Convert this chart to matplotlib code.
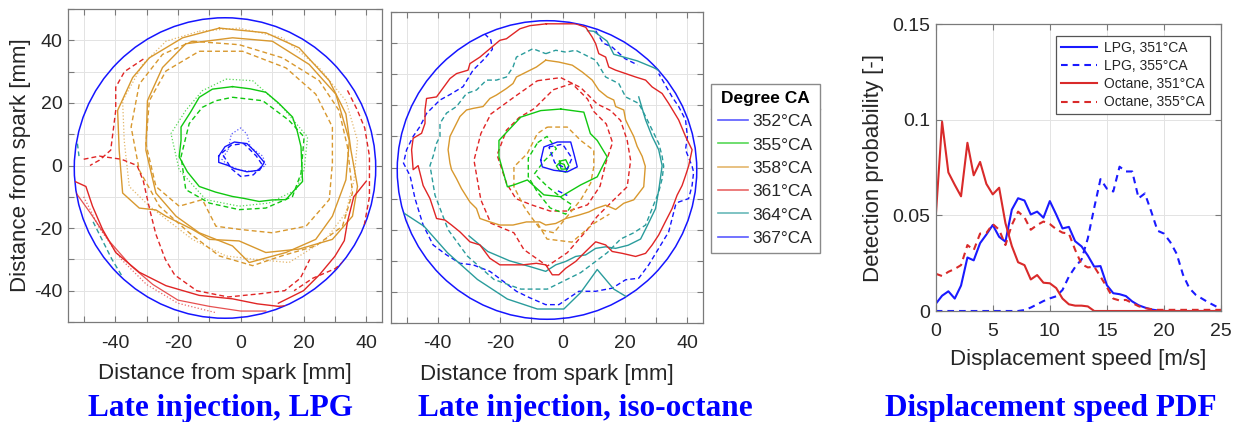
import numpy as np
import matplotlib
matplotlib.use('Agg')
import matplotlib.pyplot as plt
from matplotlib.lines import Line2D
from matplotlib.patches import Circle
from matplotlib.ticker import MultipleLocator, FuncFormatter

# ---------------- data ----------------
wall_center = (-5.0, -0.8)
wall_radius = 48.0

ca_labels = ['352°CA', '355°CA', '358°CA', '361°CA', '364°CA', '367°CA']
ca_colors = ['#1515ff', '#10c810', '#d8982e', '#e02525', '#2a9c9c', '#1515ff']

# Panel 1: late injection LPG (contour points in mm)
lpg_352_solid = [(-7, 3), (-5, 6), (-2, 7.5), (2, 7), (5, 4), (7.5, 1), (6, -1.5), (2, -2), (-2, -1), (-4, 0), (-7, 1)]
lpg_352_dashed = [(-6, 4), (-3, 6.5), (1, 7), (5, 3), (7, 0), (4, -3), (0, -3.5), (-3, -1)]
lpg_352_dotted = [(-4, 5), (-3, 10), (0, 12), (2, 10), (3, 6), (7, 3), (8, 0), (4, -2), (0, -1.5), (-4, 0), (-6, 2)]
lpg_355_solid = [(-2.6, 25.2), (3, 24.5), (8, 23.4), (12, 20), (16.5, 15.5), (18, 11), (19.2, 6), (19.7, -5.1), (17, -8),
                 (14.4, -10.9), (10, -11), (5.9, -11.5), (1, -10.5), (-2.6, -9.9), (-8, -8.5), (-13.2, -6.7), (-17, -2),
                 (-19.6, 2.8), (-19, 8), (-19, 12.3), (-16, 17), (-13.2, 21.8), (-9, 24.4)]
lpg_355_dashed = [(-2.6, 21.8), (7, 20.7), (15.4, 14.4), (20.2, 9.1), (19.2, -2.5), (16.5, -9.9), (8, -13.6), (-0.5, -14.1),
                  (-10, -12), (-17.5, -7.7), (-19, 2.8), (-16.4, 13.4), (-12.2, 18.6), (-7.9, 20.7)]
lpg_355_dotted = [(-4.7, 27.6), (3.8, 27.1), (13.3, 18.6), (21.3, 9.1), (20.2, -1.4), (17.6, -7.8), (9, -12), (-0.5, -13),
                  (-11.1, -10.9), (-19.6, -1.4), (-22.2, 10.2), (-17.5, 17.6), (-12.2, 23.9)]
lpg_358_solid_a = [(-6.8, 43.9), (8, 42.4), (18.6, 37.6), (28.2, 27.1), (33.5, 16.5), (35.1, 4.9), (37.2, -6.7), (35.6, -16.2),
                   (29.2, -23.6), (18.6, -26.7), (8, -27.8), (-0.5, -24.1), (-10, -23.6), (-15.4, -20.4), (-23.8, -16.2),
                   (-27, -14.2), (-32.3, -13.6), (-37.6, -8.8), (-38.7, 4.9), (-39.2, 17.6), (-34.4, 28.1), (-29.1, 34.4), (-18.5, 40.8)]
lpg_358_solid_b = [(-17.5, 38.9), (-2.6, 40.8), (10.1, 39.7), (21.8, 32.3), (30.3, 22.8), (34.6, 8), (33.5, -4.6), (29.2, -16.2),
                   (23.9, -23.6), (14.4, -27.8), (2.7, -31), (-2.6, -25.7), (-13.2, -21.5), (-20.6, -16.2), (-27, -8.8),
                   (-30.2, 4.9), (-29.7, 20.7), (-24.9, 31.3)]
lpg_358_dashed_a = [(-15.4, 39.7), (-0.5, 38.6), (13.3, 34.4), (25, 27.1), (31.3, 17.6), (34, 6), (35.6, -8.8), (32.4, -19.4),
                    (23.9, -25.7), (13.3, -28.8), (3.8, -32), (-6.8, -28.9), (-16.4, -21.5), (-25.9, -13), (-32.3, -1.5),
                    (-34.9, 12.3), (-32.3, 26), (-24.9, 35.5)]
lpg_358_dashed_b = [(-13.2, 36.5), (0.6, 36.5), (14.4, 31.2), (23.9, 22.8), (29.2, 12.3), (29.2, 0.7), (28.2, -10.9),
                    (20.8, -19.4), (10.1, -21.5), (-0.5, -20.4), (-7.9, -19.4), (-12.2, -10.9), (-19.6, -13), (-27, -6.7),
                    (-30.2, 7), (-29.1, 20.7), (-23.8, 30.2)]
lpg_358_dotted = [(-13.2, 42.9), (-0.5, 43.9), (13.3, 40.8), (25, 31.2), (33.5, 20.7), (37.2, 8), (36.1, -4.6), (33.5, -15.1),
                  (27.1, -23.6), (15.4, -31), (3.8, -29.9), (-4.7, -28.9), (-15.4, -23.6), (-29.1, -13), (-35.5, -6.7),
                  (-37.1, 8), (-37.6, 20.7), (-31.2, 32.3), (-23.8, 39.7)]
lpg_361_solid_a = [(-53, -5), (-49.3, -6.7), (-47.2, -13), (-44, -20.4), (-39.8, -27.8), (-32.3, -34.1), (-23.8, -38.4),
                   (-13.2, -41.5), (-2.6, -42.6), (5.3, -44.2), (12, -45), (18.6, -44.5), (25, -41)]
lpg_361_solid_b = [(-53, -8), (-48, -15), (-42, -24), (-35, -32), (-28, -38), (-20, -43), (-10, -45), (0, -46.5), (8, -46.5)]
lpg_361_solid_c = [(40, -5), (36, -10), (34, -18), (33, -24), (30, -29), (25, -35), (20, -40), (12, -44)]
lpg_361_dashed_a = [(-31, 34), (-37, 30), (-39.8, 25), (-39.8, 17.6), (-41.4, 4.9), (-45, 1.7), (-48, 0)]
lpg_361_dashed_b = [(-50, 2), (-45, 3), (-38, 2), (-33, 0), (-31, -5), (-29, -14), (-27, -22), (-24, -30), (-21, -35),
                    (-14, -40), (-4, -42), (6, -41), (14, -40), (19, -36), (22, -30)]
lpg_361_dashed_c = [(34, 24), (37, 18), (39.5, 12), (41, 3), (41, -10), (39, -21), (36, -28), (30, -33), (23, -36), (17, -40)]
lpg_361_dotted = [(-50, -10), (-45, -20), (-38, -30), (-30, -38), (-20, -44), (-8, -47)]
lpg_364_dashed_a = [(-52, 7), (-51.5, 3)]
lpg_364_dashed_b = [(-47, -18), (-44, -24), (-41, -30), (-38, -35)]

# Panel 2: late injection iso-octane
oct_352_solid = [(-7, 2.3), (-6, 6.6), (-1.7, 8.2), (2.6, 8.2), (3.6, 4.5), (4.7, 0.2), (1.5, -1.4), (-2.8, -0.9), (-6.5, 0.2)]
oct_352_dashed = [(-4.4, 6.6), (0, 7.5), (3, 3), (1.5, -0.5), (-2.5, 1.5), (-4.4, 6.6)]
oct_352_dotted = [(-1.5, -7.5), (0.5, -8.5), (1.5, -9)]
oct_355_solid = [(-0.6, 18.8), (6.8, 17.8), (8.9, 10.9), (11.1, 8.7), (14.3, 3.4), (11.1, -3), (5.8, -5.6), (-0.6, -9.4),
                 (-6, -8.8), (-11.3, -4), (-15.6, -5.6), (-17.7, -6.2), (-20.4, 3.4), (-20.4, 8.7), (-13.4, 16.2), (-7, 18.3)]
oct_355_dashed = [(-8, 8), (-5, 10), (-2, 6), (-6, 2), (-9, -2), (-5, -6), (0, -10), (3, -12), (1, -15), (-4, -13),
                  (-8, -8), (-11, -3), (-11, 3)]
oct_355_core = [(-1, 2), (1, 2.5), (2, 0.5), (1, -1.5), (-1, -1), (-2, 0.5), (-1, 1.5), (0.5, 1), (1, -0.5), (-0.5, -0.5)]
oct_358_solid = [(-5.4, 34.5), (-1.2, 33.9), (3.1, 32.9), (6.3, 30.7), (9.5, 28.1), (11.6, 24.9), (14.3, 22.7), (16.4, 21.7),
                 (17, 19.6), (19.6, 18.5), (20.2, 15.3), (21.2, 13.2), (22.8, 10), (23.9, 6.8), (25.5, 3.6), (26.5, 0.4),
                 (26, -6.2), (22.8, -10.4), (19.6, -11.5), (17, -13.5), (13.8, -12.1), (10.6, -13.2), (8.4, -14.3),
                 (5.2, -15.3), (1, -16.4), (-2.2, -18), (-5.4, -18.5), (-7.3, -17.5), (-11.6, -17.5), (-15.9, -18.5),
                 (-20.1, -18.5), (-23.3, -17.5), (-26.5, -16.4), (-27.6, -13.2), (-29.7, -11.1), (-32.4, -6.8),
                 (-34, -3.6), (-35.6, -0.7), (-36.1, 1.4), (-36.7, 5.7), (-36.1, 10), (-34.5, 13.2), (-32.9, 16.4),
                 (-30.8, 18.5), (-28.7, 19), (-25.5, 19.6), (-23.3, 22.2), (-21.2, 23.3), (-18, 25.4), (-15.9, 27),
                 (-14.8, 29.1), (-11.6, 30.7), (-8.4, 32.3)]
oct_358_dashed = [(-4.9, 13), (1.5, 13), (5.8, 8.7), (10, 5.5), (10, 0.2), (9, -5), (5.8, -10.4), (1.5, -15.7), (-2.8, -21),
                  (-7, -20), (-10.2, -15.7), (-12.4, -12.5), (-15.6, -6.2), (-15.6, 0.2), (-11.3, 4.5), (-8.1, 10.9)]
oct_358_dashed_b = [(-8, -18), (-5, -23), (3, -24), (10, -18), (15, -15)]
oct_361_solid = [(-5.2, 46.2), (-10.5, 45.6), (-13.7, 44.6), (-18, 41.4), (-20.1, 40.9), (-23.3, 38.2), (-26.5, 35.5),
                 (-29.7, 33.4), (-30.3, 31.3), (-34, 30.2), (-36.1, 28.6), (-38.8, 24.9), (-40.4, 22.7), (-43.6, 22.2),
                 (-44.1, 18.5), (-44.1, 14.2), (-45.2, 11), (-47.9, 9.4), (-48.4, 5.7), (-47.9, -0.7), (-46.3, 0.6),
                 (-44.7, -5.8), (-42.5, -10), (-40.4, -16.4), (-37.7, -16.9), (-35.6, -18.5), (-32.9, -20.7),
                 (-29.7, -23.9), (-26.5, -24.9), (-23.3, -29.2), (-20.1, -31.3), (-15.9, -31.3), (-12.7, -31.3),
                 (-8.4, -30.8), (-5.4, -31.3), (-3.3, -34.5), (-1.2, -34.5), (1, -32.4), (4.2, -30.2), (7.4, -27),
                 (10.6, -23.9), (13.8, -24.9), (15.9, -27), (19.1, -27.6), (23.4, -28.6), (26.6, -27.6), (28.7, -24.9),
                 (30.8, -21.7), (32.9, -17.5), (35.1, -13.2), (36.7, -8.9), (38.3, -5.8), (39.4, -2.6), (40.4, 0.5),
                 (41.5, 5.7), (39.4, 10), (37.2, 15.3), (34, 20.6), (31.9, 23.8), (28.7, 25.9), (26.6, 28.1), (23.4, 29.1),
                 (20.2, 30.2), (17, 31.3), (14.8, 32.3), (13.8, 35.5), (11.6, 36.6), (10.6, 39.8), (9.5, 41.9),
                 (7.4, 45.1), (4.2, 46.2), (0, 46.2)]
oct_361_dashed = [(-8.1, 27.9), (-0.6, 28.9), (5.8, 25.7), (11.1, 20.4), (15.4, 18.3), (18.6, 15.1), (20.7, 8.7), (21.8, 2.3),
                  (20.7, -6.2), (16.4, -10.4), (11.1, -15.7), (7.9, -20), (1.5, -27.4), (-4.9, -31.7), (-12.4, -26.4),
                  (-15.6, -21), (-23, -17.9), (-26.2, -10.4), (-28.4, 2.3), (-26.2, 10.9), (-23, 17.2), (-15.6, 22.6)]
oct_361_dashed_b = [(-3, 25), (3, 27), (8, 22), (10, 18), (14, 14), (16, 8), (14, 2), (12, -6), (8, -12), (2, -14),
                    (-4, -14), (-10, -12), (-15, -10), (-18, -5), (-21, 4), (-18, 12), (-14, 16), (-9, 19)]
oct_364_solid_a = [(-50.8, -14.7), (-44.4, -18.9), (-36.9, -27.4), (-27.3, -36), (-17.7, -42.3), (-8.1, -45.5), (0.4, -45.5),
                   (5.8, -40.2), (11.1, -32.8), (16.4, -39.1), (21.2, -42), (27, -40)]
oct_364_solid_b = [(8, 44), (10, 43.8), (14.3, 40.6), (16.4, 36.4), (23.9, 34.3), (29.2, 32.1), (33, 30)]
oct_364_solid_c = [(-30, -22), (-24, -27), (-17, -30), (-10, -32), (-5.4, -33.4), (-2.2, -31.3), (1, -30.2), (4.2, -28.6),
                   (7.4, -28.1), (10.6, -26), (13.8, -25.5), (17, -26), (21, -25), (25, -23), (27, -19), (29.8, -13.2),
                   (31, -6), (31.9, 0.6), (30.8, 5.7), (28.7, 10), (26.6, 15.3), (24.4, 22.7)]
oct_364_dashed = [(-5.4, 36.6), (-2.2, 37.7), (1, 37.1), (4.2, 37.7), (10.6, 34.5), (13.8, 29.1), (18, 27), (20.2, 22.7),
                  (24.4, 20.6), (26.6, 16.4), (28.7, 12.1), (30.8, 7.8), (31.9, 3.6), (32.4, 0.4), (31.9, -3.6),
                  (30.8, -7.9), (28.7, -13.2), (26.6, -18.5), (22.8, -21), (18.6, -23), (14.3, -27.4), (5.8, -33.8),
                  (-4.9, -39.1), (-13.4, -39.1), (-22, -36), (-30.5, -28.5), (-36.7, -20), (-40.9, -8.9), (-42.5, 0.6),
                  (-41.5, 3.6), (-40.4, 7.8), (-39.3, 10), (-39.3, 14.2), (-37.2, 17.5), (-34, 19.6), (-30.8, 23.8),
                  (-27.6, 24.9), (-24.4, 28.1), (-21.2, 28.1), (-18, 29.1), (-15.9, 32.3), (-14.8, 35.5), (-9.5, 38.2)]
oct_367_dashed_a = [(-25, 43), (-23, 41), (-22.5, 38), (-25, 35), (-28.7, 31.3), (-31.9, 26), (-36, 23.5), (-39.3, 21.7),
                    (-43.6, 17.4), (-45.7, 13.2), (-47.9, 10), (-50, 5.7), (-51, 1.4), (-48.9, -2.6), (-47.3, -10),
                    (-44.7, -18.5), (-41.5, -24.9), (-37.2, -28.1), (-32.9, -30.8), (-28.7, -31.3), (-23.3, -33.4),
                    (-19, -36.6), (-14.8, -39.8), (-10.5, -41.9), (-5.4, -44.1), (-1.2, -44.1), (5.2, -39.8), (10.6, -39.8),
                    (15.9, -38.8), (20.2, -36.1), (24.4, -35.6), (27.6, -31.3), (30.8, -26), (34, -20.7), (35.1, -16.4),
                    (36.2, -12.1), (37.2, -11.1), (40.4, -10), (41.5, -5.8), (42, -1.5), (41.5, 0.4), (39.4, 5.7),
                    (40, 10), (39.4, 15.3), (37.2, 19.6), (35.1, 22.7), (30.8, 30.2)]
oct_367_dashed_b = [(10.6, 44), (13, 40), (15.9, 38.7), (20, 35), (24, 33)]

# Panel 3: displacement speed PDF
speed_bins = [0.0, 0.56, 1.11, 1.67, 2.22, 2.78, 3.33, 3.89, 4.44, 5.0, 5.56, 6.11, 6.67, 7.22, 7.78, 8.33, 8.89, 9.44,
              10.0, 10.56, 11.11, 11.67, 12.22, 12.78, 13.33, 13.89, 14.44, 15.0, 15.56, 16.11, 16.67, 17.22, 17.78,
              18.33, 18.89, 19.44, 20.0, 20.56, 21.11, 21.67, 22.22, 22.78, 23.33, 23.89, 24.44, 25.0]
pdf_lpg_351 = [0.0037, 0.008, 0.0103, 0.0065, 0.0133, 0.028, 0.0265, 0.0355, 0.040, 0.045, 0.0388, 0.0363, 0.053, 0.059,
               0.0578, 0.0505, 0.052, 0.0488, 0.0575, 0.0505, 0.0432, 0.044, 0.0365, 0.0338, 0.029, 0.0232, 0.0235, 0.0135,
               0.0093, 0.0088, 0.0078, 0.005, 0.003, 0.0018, 0.0008, 0.0003, 0, 0, 0, 0, 0, 0, 0, 0, 0, 0]
pdf_lpg_355 = [0, 0, 0, 0, 0, 0, 0, 0, 0, 0, 0, 0, 0, 0, 0.0005, 0.0018, 0.0035, 0.0052, 0.0066, 0.0077, 0.011, 0.018,
               0.023, 0.027, 0.038, 0.054, 0.069, 0.064, 0.0625, 0.0755, 0.073, 0.073, 0.059, 0.0615, 0.052, 0.042, 0.0405,
               0.036, 0.030, 0.019, 0.012, 0.0085, 0.0065, 0.0045, 0.0028, 0.001]
pdf_oct_351 = [0.049, 0.099, 0.0725, 0.066, 0.060, 0.088, 0.071, 0.078, 0.0665, 0.061, 0.0645, 0.046, 0.034, 0.0255, 0.024,
               0.0165, 0.0188, 0.0148, 0.0145, 0.012, 0.0065, 0.0035, 0.0028, 0.0028, 0.0024, 0, 0, 0, 0, 0, 0, 0, 0, 0,
               0, 0, 0, 0, 0, 0, 0, 0, 0, 0, 0, 0]
pdf_oct_355 = [0.0195, 0.0183, 0.0205, 0.022, 0.024, 0.0345, 0.0318, 0.0405, 0.0408, 0.0455, 0.0425, 0.0345, 0.045, 0.052,
               0.049, 0.0425, 0.045, 0.0468, 0.0455, 0.0428, 0.041, 0.0405, 0.032, 0.0245, 0.0228, 0.0232, 0.018, 0.0125,
               0.0065, 0.0055, 0.0058, 0.0042, 0.0025, 0.0015, 0.001, 0.0006, 0.0006, 0.0006, 0.0006, 0.0006, 0.0006,
               0.0006, 0.0006, 0.0006, 0.0006, 0.0006]
pdf_labels = ['LPG, 351°CA', 'LPG, 355°CA', 'Octane, 351°CA', 'Octane, 355°CA']

# ---------------- style ----------------
plt.rcParams['font.family'] = ['Liberation Sans', 'DejaVu Sans']
TXT = '#262626'
SPINE = '#7a7a7a'
GRID = '#e3e3e3'

W, H = 1237, 422
fig = plt.figure(figsize=(W / 100, H / 100), dpi=100)


def style_axes(ax):
    for s in ax.spines.values():
        s.set_color(SPINE)
        s.set_linewidth(0.9)
    ax.tick_params(direction='in', top=True, right=True, color=SPINE, labelcolor=TXT,
                   labelsize=14, length=4, width=0.8)
    ax.grid(True, color=GRID, linewidth=0.7)
    ax.set_axisbelow(True)


def draw(ax, pts, color, ls='-', lw=0.9, alpha=1.0, closed=True, clip=None):
    arr = np.array(pts, dtype=float)
    if closed:
        arr = np.vstack([arr, arr[:1]])
    ln, = ax.plot(arr[:, 0], arr[:, 1], color=color, linestyle=ls, linewidth=lw, alpha=alpha,
                  solid_joinstyle='round')
    if ls == '--':
        ln.set_dashes((3.5, 2.2))
    if clip is not None:
        ln.set_clip_path(clip)
    return ln


def label_every_20(v, pos):
    iv = int(round(v))
    return str(iv) if iv % 20 == 0 else ''


def setup_flame_axes(rect, show_y):
    ax = fig.add_axes(rect)
    ax.set_xlim(-55, 45)
    ax.set_ylim(-50, 50)
    style_axes(ax)
    ax.xaxis.set_major_locator(MultipleLocator(10))
    ax.yaxis.set_major_locator(MultipleLocator(10))
    ax.xaxis.set_major_formatter(FuncFormatter(label_every_20))
    if show_y:
        ax.yaxis.set_major_formatter(FuncFormatter(label_every_20))
        ax.set_ylabel('Distance from spark [mm]', fontsize=16, color=TXT, labelpad=2)
    else:
        ax.yaxis.set_major_formatter(FuncFormatter(lambda v, p: ''))
    ax.tick_params(axis='x', pad=9)
    ax.tick_params(axis='y', pad=4)
    ax.set_xlabel('Distance from spark [mm]', fontsize=16, color=TXT, labelpad=8)
    clip = Circle(wall_center, wall_radius, transform=ax.transData, facecolor='none', edgecolor='none')
    ax.add_patch(clip)
    return ax, clip


c352, c355, c358, c361, c364, c367 = ca_colors

# ---- panel 1 ----
ax1, clip1 = setup_flame_axes([68 / W, 1 - 322 / H, 314 / W, 313 / H], True)
for pts, col, ls, lw, al, cl in [
    (lpg_358_dotted, c358, ':', 0.9, 0.7, True),
    (lpg_358_solid_a, c358, '-', 1.0, 1, True),
    (lpg_358_solid_b, c358, '-', 1.0, 1, True),
    (lpg_358_dashed_a, c358, '--', 1.0, 1, True),
    (lpg_358_dashed_b, c358, '--', 1.0, 1, True),
    (lpg_361_dotted, c361, ':', 0.9, 0.7, False),
    (lpg_361_solid_a, c361, '-', 1.0, 1, False),
    (lpg_361_solid_b, c361, '-', 0.9, 0.8, False),
    (lpg_361_solid_c, c361, '-', 1.0, 1, False),
    (lpg_361_dashed_a, c361, '--', 1.0, 1, False),
    (lpg_361_dashed_b, c361, '--', 1.0, 1, False),
    (lpg_361_dashed_c, c361, '--', 1.0, 1, False),
    (lpg_364_dashed_a, c364, '--', 1.0, 1, False),
    (lpg_364_dashed_b, c364, '--', 1.0, 1, False),
    (lpg_355_dotted, c355, ':', 0.9, 0.7, True),
    (lpg_355_solid, c355, '-', 1.0, 1, True),
    (lpg_355_dashed, c355, '--', 1.0, 1, True),
    (lpg_352_dotted, c352, ':', 0.9, 0.7, True),
    (lpg_352_solid, c352, '-', 1.0, 1, True),
    (lpg_352_dashed, c352, '--', 1.0, 1, True),
]:
    draw(ax1, pts, col, ls, lw, al, cl, clip1)
ax1.add_patch(Circle(wall_center, wall_radius, facecolor='none', edgecolor='#1515ff', linewidth=1.1))

# ---- panel 2 ----
ax2, clip2 = setup_flame_axes([391 / W, 1 - 323 / H, 312 / W, 311 / H], False)
for pts, col, ls, lw, al, cl in [
    (oct_367_dashed_a, c367, '--', 1.0, 1, False),
    (oct_367_dashed_b, c367, '--', 1.0, 1, False),
    (oct_364_dashed, c364, '--', 1.0, 1, True),
    (oct_364_solid_a, c364, '-', 1.0, 1, False),
    (oct_364_solid_b, c364, '-', 1.0, 1, False),
    (oct_364_solid_c, c364, '-', 1.0, 1, False),
    (oct_361_solid, c361, '-', 1.0, 1, True),
    (oct_361_dashed, c361, '--', 1.0, 1, True),
    (oct_361_dashed_b, c361, '--', 1.0, 1, True),
    (oct_358_solid, c358, '-', 1.0, 1, True),
    (oct_358_dashed, c358, '--', 1.0, 1, True),
    (oct_358_dashed_b, c358, '--', 1.0, 1, False),
    (oct_355_solid, c355, '-', 1.0, 1, True),
    (oct_355_dashed, c355, '--', 1.0, 1, True),
    (oct_355_core, c355, '-', 1.0, 1, True),
    (oct_352_solid, c352, '-', 1.0, 1, True),
    (oct_352_dashed, c352, '--', 1.0, 1, False),
    (oct_352_dotted, c352, '--', 1.0, 1, False),
]:
    draw(ax2, pts, col, ls, lw, al, cl, clip2)
ax2.add_patch(Circle(wall_center, wall_radius, facecolor='none', edgecolor='#1515ff', linewidth=1.1))

handles = [Line2D([], [], color=c, linewidth=1.2, alpha=0.7) for c in ca_colors]
leg = fig.legend(handles, ca_labels, loc='upper left', bbox_to_anchor=(711 / W, 1 - 84 / H),
                 title='Degree CA', title_fontproperties={'weight': 'bold', 'size': 12.5},
                 fontsize=12.5, frameon=True, fancybox=False, edgecolor='#8a8a8a', framealpha=1,
                 handlelength=1.75, handletextpad=0.25, borderpad=0.4, labelspacing=0.47,
                 borderaxespad=0)
leg.get_frame().set_linewidth(1.0)
for t in leg.get_texts():
    t.set_color(TXT)
leg.get_title().set_color('black')

# ---- panel 3 ----
ax3 = fig.add_axes([935.7 / W, 1 - 311 / H, 285.3 / W, 286.7 / H])
style_axes(ax3)
ax3.set_xlim(0, 25)
ax3.set_ylim(0, 0.15)
ax3.xaxis.set_major_locator(MultipleLocator(5))
ax3.set_yticks([0, 0.05, 0.1, 0.15])
ax3.set_yticklabels(['0', '0.05', '0.1', '0.15'])
ax3.tick_params(axis='x', pad=9)
ax3.tick_params(axis='y', pad=4)
ln1, = ax3.plot(speed_bins, pdf_lpg_351, color='#1a1aff', linewidth=1.5)
ln2, = ax3.plot(speed_bins, pdf_lpg_355, color='#1a1aff', linewidth=1.5, linestyle='--', dashes=(3.2, 2.4))
ln3, = ax3.plot(speed_bins, pdf_oct_351, color='#d92a2a', linewidth=1.5)
ln4, = ax3.plot(speed_bins, pdf_oct_355, color='#d92a2a', linewidth=1.5, linestyle='--', dashes=(3.2, 2.4))
ax3.set_xlabel('Displacement speed [m/s]', fontsize=16, color=TXT, labelpad=6)
ax3.set_ylabel('Detection probability [-]', fontsize=16, color=TXT, labelpad=6)
leg3 = ax3.legend([ln1, ln2, ln3, ln4], pdf_labels, loc='upper right', bbox_to_anchor=(0.961, 0.959),
                  fontsize=10, frameon=True, fancybox=False, edgecolor='#555555', framealpha=1,
                  handlelength=2.6, handletextpad=0.5, borderpad=0.35, labelspacing=0.3, borderaxespad=0)
leg3.get_frame().set_linewidth(0.9)
for t in leg3.get_texts():
    t.set_color(TXT)

# ---- captions ----
cap_kw = dict(family=['Liberation Serif', 'DejaVu Serif'], weight='bold', color='#0000ff', fontsize=22.5,
              ha='center', va='baseline')
fig.text(221 / W, 1 - 416 / H, 'Late injection, LPG', **cap_kw)
fig.text(585 / W, 1 - 416 / H, 'Late injection, iso-octane', **cap_kw)
fig.text(1051 / W, 1 - 416 / H, 'Displacement speed PDF', **cap_kw)

# separator under legend title
fig.canvas.draw()
bb = leg.get_frame().get_window_extent()
tb = leg.get_title().get_window_extent()
ysep = tb.y0 - 3
fig.add_artist(Line2D([bb.x0 / W, bb.x1 / W], [ysep / H, ysep / H], transform=fig.transFigure,
                      color='#8a8a8a', linewidth=1.0))

fig.savefig('out.png', dpi=100, facecolor='white')
